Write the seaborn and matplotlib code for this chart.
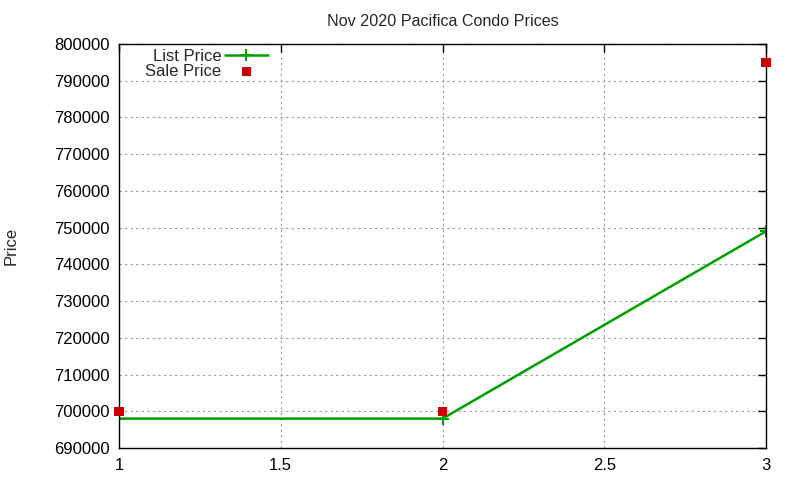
import numpy as np
import pandas as pd
import seaborn as sns
import matplotlib
matplotlib.use("Agg")
import matplotlib.pyplot as plt

listing = [1, 2, 3]
list_price = [698000, 698000, 749000]
sale_price = [700000, 700000, 795000]
yticks = list(range(690000, 800001, 10000))
xticks = [1, 1.5, 2, 2.5, 3]

df = pd.DataFrame({'Listing': listing, 'List Price': list_price, 'Sale Price': sale_price})

sns.set_style("white")
plt.rcParams['font.family'] = ['Liberation Sans', 'DejaVu Sans']
plt.rcParams['font.size'] = 12

fig = plt.figure(figsize=(8, 4.8), dpi=100)
ax = fig.add_axes([0.14875, 0.0667, 0.80875, 0.8416])

sns.lineplot(data=df, x='Listing', y='List Price', ax=ax, color='#00A000', linewidth=1.8,
             marker='+', markersize=9, markeredgewidth=1.5, markeredgecolor='#00A000',
             label='List Price')
sns.scatterplot(data=df, x='Listing', y='Sale Price', ax=ax, color='#CC0000', marker='s',
                s=45, edgecolor='none', label='Sale Price', clip_on=False, zorder=5)

ax.set_xlim(1, 3)
ax.set_ylim(690000, 800000)
ax.set_xticks(xticks)
ax.set_xticklabels(['1', '1.5', '2', '2.5', '3'])
ax.set_yticks(yticks)
ax.set_yticklabels([str(v) for v in yticks])
ax.tick_params(direction='in', length=6, width=1, top=True, right=True, colors='black',
               labelsize=12, pad=6.5)
ax.tick_params(axis='x', pad=7.5)
ax.grid(True, linestyle=(0, (2, 3)), color='#999999', linewidth=0.8)
for s in ax.spines.values():
    s.set_color('black')
    s.set_linewidth(1)

ax.set_title('Nov 2020 Pacifica Condo Prices', fontsize=11.6, pad=13)
ax.set_xlabel('')
ax.set_ylabel('Price', fontsize=12)
ax.yaxis.set_label_coords(-0.155, 0.5)

leg = ax.legend(loc='upper left', bbox_to_anchor=(0.025, 1.012), markerfirst=False,
                frameon=False, fontsize=12, handlelength=2.6, labelspacing=0.0,
                borderaxespad=0.2, handletextpad=0.2)

fig.savefig('out.png', dpi=100)
